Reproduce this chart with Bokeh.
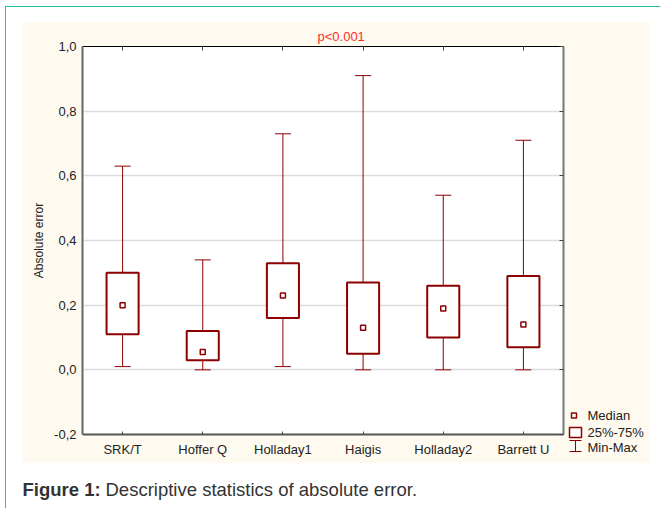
from bokeh.plotting import figure
from bokeh.layouts import column, row
from bokeh.models import (FactorRange, Range1d, LinearAxis, CategoricalAxis, FixedTicker,
                          CustomJSTickFormatter, ColumnDataSource)
from bokeh.core.properties import value
from bokeh.transform import dodge
from bokeh.embed import file_html
from bokeh.resources import INLINE

# ---------------- data ----------------
categories = ["SRK/T", "Hoffer Q", "Holladay1", "Haigis", "Holladay2", "Barrett U"]
minimum = [0.01, 0.00, 0.01, 0.00, 0.00, 0.00]
q1 = [0.11, 0.03, 0.16, 0.05, 0.10, 0.07]
median = [0.20, 0.055, 0.23, 0.13, 0.19, 0.14]
q3 = [0.30, 0.12, 0.33, 0.27, 0.26, 0.29]
maximum = [0.63, 0.34, 0.73, 0.91, 0.54, 0.71]
y_ticks = [-0.2, 0.0, 0.2, 0.4, 0.6, 0.8, 1.0]
legend_labels = ["Median", "25%-75%", "Min-Max"]
title_text = "p<0.001"
y_label = "Absolute error"
caption_bold = "Figure 1:"
caption_text = "Descriptive statistics of absolute error."

# ---------------- style / layout ----------------
RED = "#8b0000"
FONT = "Liberation Sans"
TEAL = "#22bfa5"
CREAM = "#fffaef"
PAGE_W, CHART_H, CAP_H = 660, 463, 45
MAIN_W = 566
RIGHT_B = 3
FL, FT, FB = 82, 46, 434          # frame left / top / bottom (page px)
YMIN, YMAX = -0.2, 1.0

# ================= main chart =================
p = figure(x_range=FactorRange(*categories), y_range=Range1d(YMIN, YMAX),
           width=MAIN_W, height=CHART_H, min_border_left=FL, min_border_top=FT,
           min_border_right=RIGHT_B, min_border_bottom=CHART_H - FB,
           output_backend="svg", toolbar_location=None)
p.border_fill_color = None
p.background_fill_color = "white"
p.outline_line_color = None

src = ColumnDataSource(dict(cats=categories, lo=minimum, q1=q1, med=median, q3=q3, hi=maximum))

# whiskers
p.segment(x0="cats", y0="lo", x1="cats", y1="q1", source=src, line_color=RED, line_width=1)
p.segment(x0="cats", y0="q3", x1="cats", y1="hi", source=src, line_color=RED, line_width=1)
p.segment(x0=dodge("cats", -0.1, range=p.x_range), y0="lo",
          x1=dodge("cats", 0.1, range=p.x_range), y1="lo", source=src, line_color=RED, line_width=1)
p.segment(x0=dodge("cats", -0.1, range=p.x_range), y0="hi",
          x1=dodge("cats", 0.1, range=p.x_range), y1="hi", source=src, line_color=RED, line_width=1)
# boxes
p.vbar(x="cats", bottom="q1", top="q3", width=0.4, source=src, fill_color="white",
       line_color=RED, line_width=2)
# medians
p.scatter(x="cats", y="med", source=src, marker="square", size=5, fill_color="white",
          line_color=RED, line_width=1.5)

# grid
p.xgrid.grid_line_color = None
p.ygrid.ticker = FixedTicker(ticks=y_ticks)
p.ygrid.grid_line_color = "#dcdcdc"
p.ygrid.grid_line_width = 1.5

# left axis
yax = p.yaxis[0]
yax.ticker = FixedTicker(ticks=y_ticks)
yax.formatter = CustomJSTickFormatter(code="return tick.toFixed(1).replace('.', ',');")
yax.axis_label = y_label
yax.axis_label_text_font = FONT
yax.axis_label_text_font_style = "normal"
yax.axis_label_text_font_size = "12px"
yax.axis_label_text_color = "#222222"
yax.axis_label_standoff = 5
yax.axis_line_color = "#666666"
yax.axis_line_width = 2
yax.major_tick_in = 0
yax.major_tick_out = 0
yax.minor_tick_line_color = None
yax.major_label_standoff = 6

# bottom axis
xax = p.xaxis[0]
xax.axis_line_color = "#555555"
xax.axis_line_width = 2
xax.major_tick_in = 3
xax.major_tick_out = 0
xax.major_label_standoff = 7

for ax in (yax, xax):
    ax.major_label_text_font = FONT
    ax.major_label_text_font_size = "13px"
    ax.major_label_text_color = "#222222"
    ax.major_tick_line_color = "#444444"

# top axis (ticks only, at the category centres)
top_ax = CategoricalAxis()
top_ax.axis_line_color = "black"
top_ax.axis_line_width = 1
top_ax.major_tick_in = 4
top_ax.major_tick_out = 0
top_ax.major_tick_line_color = "#444444"
top_ax.major_label_standoff = 0
top_ax.major_label_text_font_size = "2px"
top_ax.major_label_text_color = None
p.add_layout(top_ax, "above")

# right axis (ticks only)
right_ax = LinearAxis(ticker=FixedTicker(ticks=y_ticks),
                      formatter=CustomJSTickFormatter(code="return '';"))
right_ax.axis_line_color = "#777777"
right_ax.axis_line_width = 2
right_ax.major_tick_in = 4
right_ax.major_tick_out = 0
right_ax.minor_tick_in = 0
right_ax.minor_tick_out = 0
right_ax.minor_tick_line_color = None
right_ax.major_tick_line_color = "#444444"
right_ax.major_label_standoff = 0
right_ax.major_label_text_font_size = "1px"
right_ax.major_label_text_color = None
p.add_layout(right_ax, "right")

# title
p.title.text = title_text
p.title.align = "left"
p.title.offset = 235
p.title.text_font = FONT
p.title.text_font_size = "13px"
p.title.text_font_style = "normal"
p.title.text_color = "#ff2a2a"
p.title.standoff = 6

# ================= legend panel (page-pixel coordinates) =================
pl = figure(x_range=Range1d(MAIN_W, PAGE_W), y_range=Range1d(CHART_H, 0),
            width=PAGE_W - MAIN_W, height=CHART_H, min_border=0,
            output_backend="svg", toolbar_location=None)
pl.title.visible = False
pl.axis.visible = False
pl.grid.visible = False
pl.outline_line_color = None
pl.border_fill_color = None
pl.background_fill_color = None

pl.scatter(x=[573.5], y=[415], marker="square", size=5, fill_color="white",
           line_color=RED, line_width=1.5)
pl.rect(x=[575], y=[432], width=12, height=10, fill_color="white",
        line_color=RED, line_width=1.5)
pl.segment(x0=[575, 569, 569], y0=[440, 440, 451], x1=[575, 581, 581], y1=[451, 440, 451],
           line_color=RED, line_width=1)
pl.text(x=[587, 587, 587], y=[415, 432, 447], text=legend_labels,
        text_font=value(FONT), text_font_size=value("13px"),
        text_baseline=value("middle"), text_color="#222222")

# ================= caption (page-pixel coordinates) =================
pc = figure(x_range=Range1d(0, PAGE_W), y_range=Range1d(CHART_H + CAP_H, CHART_H),
            width=PAGE_W, height=CAP_H, min_border=0,
            output_backend="svg", toolbar_location=None)
pc.title.visible = False
pc.axis.visible = False
pc.grid.visible = False
pc.outline_line_color = None
pc.border_fill_color = None
pc.background_fill_color = None
pc.text(x=[22], y=[489], text=[caption_bold], text_font=value(FONT),
        text_font_size=value("18.5px"), text_font_style=value("bold"),
        text_baseline=value("middle"), text_color="#333333")
pc.text(x=[105], y=[489], text=[caption_text], text_font=value(FONT),
        text_font_size=value("18.5px"), text_baseline=value("middle"),
        text_color="#333333")

bg = ", ".join([
    f"linear-gradient({TEAL},{TEAL}) 5px 6px / 1px 502px no-repeat",
    f"linear-gradient({TEAL},{TEAL}) 5px 6px / 655px 1px no-repeat",
    f"linear-gradient({CREAM},{CREAM}) 23px 22px / 626px 441px no-repeat",
    "#ffffff",
])
layout = column(row(p, column(pl)), row(pc), styles={"background": bg})

open("out.html", "w").write(file_html(layout, INLINE))
